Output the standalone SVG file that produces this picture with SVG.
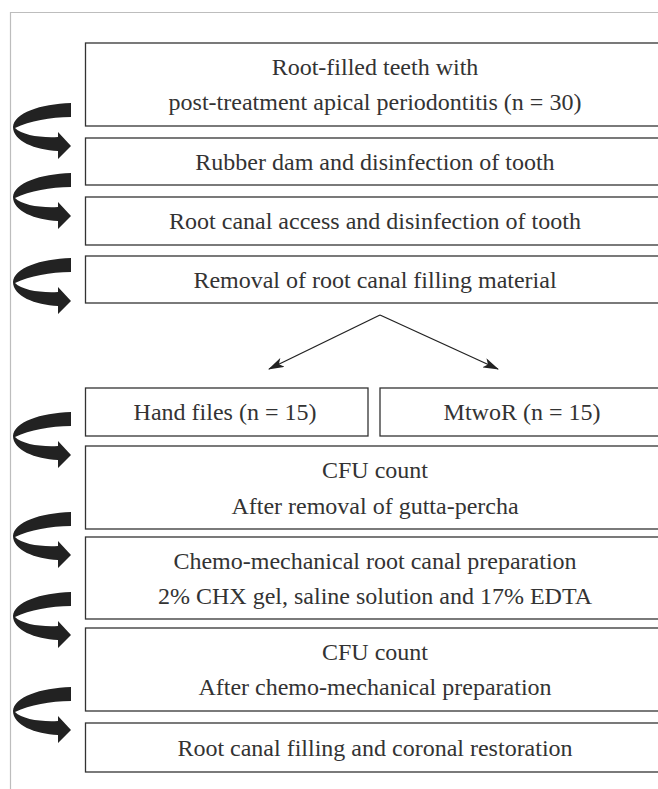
<svg xmlns="http://www.w3.org/2000/svg" width="658" height="789" viewBox="0 0 658 789">
<defs>
<style>
.frame{fill:none;stroke:#bdbdbd;stroke-width:1.2}
.box{fill:#fff;stroke:#333;stroke-width:1.3}
.t{font-family:"Liberation Serif","Times New Roman",serif;font-size:24px;fill:#333;text-anchor:middle}
.br{fill:none;stroke:#222;stroke-width:1.3}
.curl{fill:#222}
</style>
<marker id="ah" viewBox="0 0 16 10" refX="15" refY="5" markerWidth="16" markerHeight="10" markerUnits="userSpaceOnUse" orient="auto">
<path d="M0,0 L16,5 L0,10 L4,5 Z" fill="#222"/>
</marker>
<path id="curl" d="M71,0 C40,1 14,10 13,24 C13,38 35,47 58,48 L58,56 L71,43 L58,29 L58,34 C40,35 22,32 15,25 C30,18 50,14 71,14 Z"/>
</defs>
<rect width="658" height="789" fill="#fff"/>
<path class="frame" d="M10.5,789 L10.5,12.5 L658,12.5"/>

<g id="n1"><rect class="box" x="85.5" y="43" width="590" height="83"/><text class="t" x="375" y="75">Root-filled teeth with</text><text class="t" x="375" y="110">post-treatment apical periodontitis (n = 30)</text></g>
<g id="n2"><rect class="box" x="85.5" y="138" width="590" height="47"/><text class="t" x="375" y="169.5">Rubber dam and disinfection of tooth</text></g>
<g id="n3"><rect class="box" x="85.5" y="197" width="590" height="48"/><text class="t" x="375" y="229">Root canal access and disinfection of tooth</text></g>
<g id="n4"><rect class="box" x="85.5" y="256" width="590" height="47"/><text class="t" x="375" y="287.5">Removal of root canal filling material</text></g>
<g id="n5"><rect class="box" x="85.5" y="388" width="282.5" height="48"/><text class="t" x="225" y="420">Hand files (n = 15)</text></g>
<g id="n6"><rect class="box" x="380" y="388" width="295" height="48"/><text class="t" x="522" y="420">MtwoR (n = 15)</text></g>
<g id="n7"><rect class="box" x="85.5" y="446" width="590" height="83"/><text class="t" x="375" y="478">CFU count</text><text class="t" x="375" y="514">After removal of gutta-percha</text></g>
<g id="n8"><rect class="box" x="85.5" y="537" width="590" height="82"/><text class="t" x="375" y="569">Chemo-mechanical root canal preparation</text><text class="t" x="375" y="604">2% CHX gel, saline solution and 17% EDTA</text></g>
<g id="n9"><rect class="box" x="85.5" y="628" width="590" height="83"/><text class="t" x="375" y="660">CFU count</text><text class="t" x="375" y="695">After chemo-mechanical preparation</text></g>
<g id="n10"><rect class="box" x="85.5" y="723" width="590" height="49"/><text class="t" x="375" y="755.5">Root canal filling and coronal restoration</text></g>

<g id="connectors">
<path class="br" d="M380,315 L269,369" marker-end="url(#ah)"/>
<path class="br" d="M380,315 L498,369" marker-end="url(#ah)"/>
<use href="#curl" class="curl" transform="translate(0,103)"/>
<use href="#curl" class="curl" transform="translate(0,173)"/>
<use href="#curl" class="curl" transform="translate(0,258)"/>
<use href="#curl" class="curl" transform="translate(0,412)"/>
<use href="#curl" class="curl" transform="translate(0,512)"/>
<use href="#curl" class="curl" transform="translate(0,592)"/>
<use href="#curl" class="curl" transform="translate(0,687)"/>
</g>
</svg>
